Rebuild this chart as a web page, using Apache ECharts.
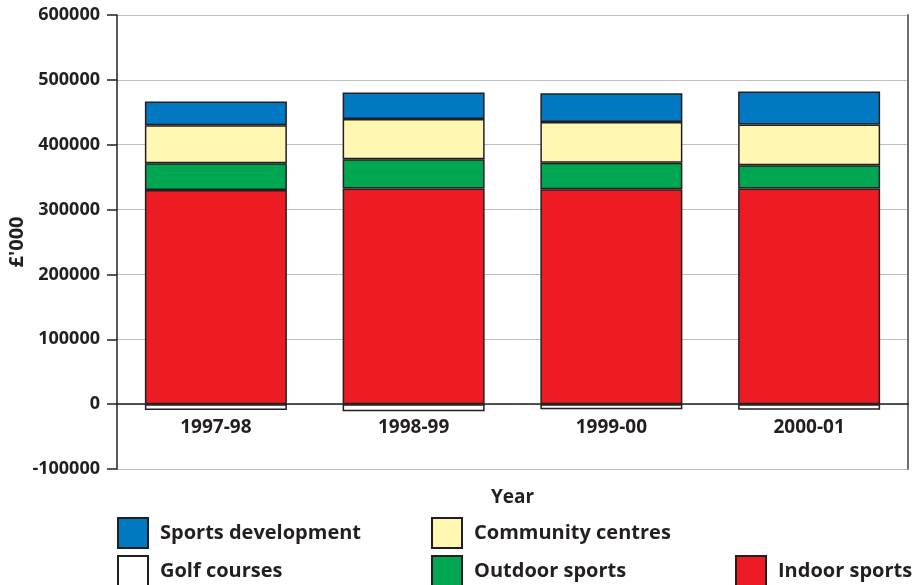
<!DOCTYPE html>
<html>
<head>
<meta charset="utf-8">
<script src="https://cdn.jsdelivr.net/npm/echarts@6/dist/echarts.min.js"></script>
<style>
html,body{margin:0;padding:0;background:#fff;}
#main{width:916px;height:585px;}
</style>
</head>
<body>
<div id="main"></div>
<script>
// 年份和各类支出（单位：千英镑）
var years = ['1997-98', '1998-99', '1999-00', '2000-01'];
var indoorSports = [330000, 332500, 331500, 332500];
var outdoorSports = [41500, 45000, 40500, 36000];
var communityCentres = [58500, 62000, 63000, 62500];
var sportsDevelopment = [36500, 41000, 44500, 51000];
var golfCourses = [-9000, -11000, -8000, -8500];
var yTicks = [-100000, 0, 100000, 200000, 300000, 400000, 500000, 600000];

var textColor = '#231f20';
var font = 'Open Sans';
var gridTop = 15, gridBottom = 116, chartH = 585;
var yMin = yTicks[0], yMax = yTicks[yTicks.length - 1];
// x轴放在0刻度处：向上偏移的像素
var zeroOffset = -(chartH - gridTop - gridBottom) * (0 - yMin) / (yMax - yMin);

function barSeries(name, data, color){
    return {
        name: name,
        type: 'bar',
        stack: 'total',
        barWidth: 142,
        data: data,
        itemStyle: {color: color, borderColor: '#231f20', borderWidth: 1.5},
        emphasis: {disabled: true}
    };
}

// 每个图例单独定位
function legendAt(name, left, top){
    return {
        data: [name],
        left: left,
        top: top,
        padding: 0,
        icon: 'rect',
        itemWidth: 30,
        itemHeight: 30,
        selectedMode: false,
        textStyle: {fontFamily: font, fontWeight: 'bold', fontSize: 20, color: textColor, padding: [0, 0, 0, 7]}
    };
}

var myChart = echarts.init(document.getElementById('main'));
var option = {
    animation: false,
    backgroundColor: '#fff',
    grid: {left: 117, right: 8, top: gridTop, bottom: gridBottom, outerBoundsMode: 'none'},
    legend: [
        legendAt('Sports development', 117, 517),
        legendAt('Community centres', 431, 517),
        legendAt('Golf courses', 117, 555),
        legendAt('Outdoor sports', 431, 555),
        legendAt('Indoor sports', 735, 555)
    ],
    xAxis: {
        type: 'category',
        data: years,
        offset: zeroOffset,
        name: 'Year',
        nameLocation: 'middle',
        nameGap: 84,
        nameTextStyle: {fontFamily: font, fontWeight: 'bold', fontSize: 19, color: textColor},
        axisLine: {onZero: false, lineStyle: {color: '#231f20', width: 1.5}},
        axisTick: {show: false},
        axisLabel: {fontFamily: font, fontWeight: 'bold', fontSize: 19, color: textColor, margin: 14}
    },
    yAxis: [{
        type: 'value',
        min: yMin,
        max: yMax,
        interval: 100000,
        name: "£'000",
        nameLocation: 'middle',
        nameGap: 90,
        nameMoveOverlap: false,
        nameTextStyle: {fontFamily: font, fontWeight: 'bold', fontSize: 20, color: textColor},
        axisLine: {show: true, lineStyle: {color: '#231f20', width: 1.5}},
        axisTick: {show: true, length: 10, lineStyle: {color: '#231f20', width: 1.5}},
        axisLabel: {fontFamily: font, fontWeight: 'bold', fontSize: 18, color: textColor, margin: 17,
            formatter: function(v){ return String(v); }},
        splitLine: {show: true, lineStyle: {color: '#bcbec0', width: 1}}
    }, {
        type: 'value',
        position: 'right',
        min: yMin,
        max: yMax,
        interval: 100000,
        axisLine: {show: true, lineStyle: {color: '#6d6e71', width: 2}},
        axisTick: {show: false},
        axisLabel: {show: false},
        splitLine: {show: false}
    }],
    series: [
        barSeries('Indoor sports', indoorSports, '#ed1c24'),
        barSeries('Outdoor sports', outdoorSports, '#00a651'),
        barSeries('Community centres', communityCentres, '#fff7b2'),
        barSeries('Sports development', sportsDevelopment, '#0079c2'),
        barSeries('Golf courses', golfCourses, '#ffffff')
    ]
};
myChart.setOption(option);
</script>
</body>
</html>
